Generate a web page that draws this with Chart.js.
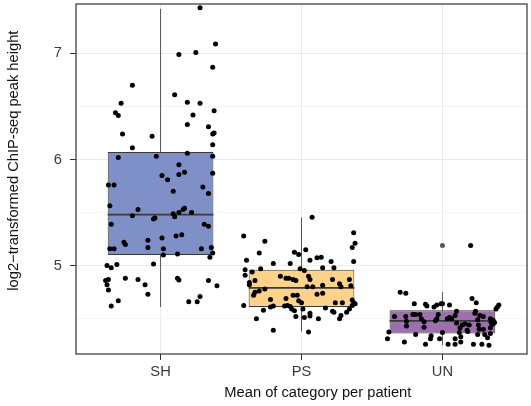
<!DOCTYPE html>
<html>
<head>
<meta charset="utf-8">
<script src="https://cdn.jsdelivr.net/npm/chart.js@4"></script>
<style>
  html, body { margin: 0; padding: 0; background: #fff; }
  #wrap { width: 531px; height: 406px; }
</style>
</head>
<body>
<div id="wrap"><canvas id="chart" width="531" height="406"></canvas></div>
<script>
// ---------------------------------------------
// DATA
// ---------------------------------------------
const categories = ['SH', 'PS', 'UN'];
const yTicks = [4.5, 5, 5.5, 6, 6.5, 7];

// box summary per category
const whiskerLow  = [4.61, 4.38, 4.25];
const q1          = [5.10, 4.61, 4.36];
const median      = [5.48, 4.79, 4.48];
const q3          = [6.07, 4.96, 4.58];
const whiskerHigh = [7.42, 5.455, 4.75];
const outliers    = [[], [], [5.19]];

// jittered points (offset from category centre, value)
const shJitter = [0.28,0.39,0.13,0.25,0.37,-0.20,0.10,-0.28,0.19,0.28,
  0.38,-0.32,-0.30,0.23,-0.27,-0.06,0.19,0.34,0.38,0.37,
  -0.20,0.37,0.19,-0.30,-0.03,0.37,0.13,0.01,0.05,0.17,
  0.13,0.37,-0.37,-0.33,0.09,0.30,0.34,-0.36,-0.16,0.16,
  0.17,0.09,0.10,0.13,0.22,-0.20,-0.05,-0.04,-0.35,0.31,
  0.34,0.11,0.15,0.01,-0.09,-0.26,-0.25,-0.09,-0.36,-0.33,
  0.02,0.29,0.36,0.37,0.35,0.02,0.12,-0.38,-0.35,-0.31,
  -0.05,-0.39,-0.37,-0.38,-0.37,-0.25,-0.16,-0.11,-0.09,0.12,
  0.13,0.34,0.40,-0.30,-0.35,0.20,0.26,0.28];
const shValues = [7.43,7.09,6.99,7.01,6.87,6.70,6.61,6.53,6.54,6.53,
  6.46,6.44,6.415,6.42,6.24,6.22,6.33,6.31,6.25,6.24,
  6.11,6.14,6.06,6.02,6.03,6.03,5.95,5.85,5.81,5.88,
  5.86,5.87,5.76,5.76,5.70,5.74,5.68,5.565,5.53,5.53,
  5.54,5.49,5.46,5.50,5.50,5.47,5.44,5.45,5.39,5.39,
  5.37,5.28,5.29,5.26,5.24,5.22,5.20,5.17,5.16,5.16,
  5.16,5.16,5.17,5.12,5.08,5.10,5.11,5.00,4.98,5.01,
  5.015,4.86,4.87,4.82,4.77,4.88,4.87,4.82,4.73,4.88,
  4.865,4.86,4.81,4.67,4.62,4.66,4.66,4.71];

const psJitter = [0.075,-0.41,-0.26,0.37,0.38,0.36,-0.30,-0.05,-0.02,0.03,
  0.11,0.14,-0.39,-0.20,-0.08,0.06,0.21,0.37,0.15,0.23,
  -0.40,-0.35,-0.29,-0.01,0.02,-0.40,-0.15,-0.11,-0.09,-0.06,
  -0.04,0.05,0.06,-0.37,-0.37,-0.33,0.22,0.27,0.28,0.34,
  0.35,0.15,0.04,0.08,-0.30,-0.26,-0.33,-0.34,-0.06,-0.03,
  0.11,0.15,-0.22,-0.11,-0.02,0.00,-0.41,-0.22,-0.20,-0.12,
  -0.10,-0.08,-0.07,-0.05,0.01,0.17,0.24,0.29,0.36,0.37,
  0.38,0.36,0.34,0.32,-0.27,0.22,0.23,0.06,0.06,-0.04,
  0.02,0.12,0.27,0.28,-0.32,-0.20,0.05];
const psValues = [5.455,5.28,5.23,5.31,5.21,5.17,5.12,5.125,5.105,5.15,
  5.075,5.08,5.05,5.02,5.02,5.05,5.04,5.04,4.98,4.98,
  4.96,4.94,4.97,4.97,4.955,4.91,4.90,4.88,4.88,4.87,
  4.86,4.90,4.87,4.84,4.82,4.86,4.87,4.83,4.80,4.87,
  4.81,4.815,4.80,4.80,4.76,4.78,4.75,4.72,4.72,4.72,
  4.73,4.74,4.68,4.69,4.67,4.65,4.625,4.61,4.62,4.62,
  4.625,4.615,4.59,4.575,4.59,4.60,4.65,4.65,4.675,4.65,
  4.64,4.625,4.59,4.56,4.58,4.57,4.56,4.55,4.525,4.52,
  4.51,4.50,4.50,4.53,4.50,4.39,4.375];

const unJitter = [0.20,-0.30,-0.26,-0.20,-0.12,-0.11,-0.06,-0.04,-0.01,0.00,
  0.05,-0.34,-0.26,-0.255,-0.255,-0.21,-0.19,-0.16,-0.15,-0.13,
  -0.13,-0.03,-0.04,-0.05,0.05,-0.38,-0.39,-0.19,-0.27,-0.08,
  -0.085,-0.12,-0.02,0.00,0.04,0.21,0.24,0.39,0.40,0.38,
  0.10,0.09,0.235,0.23,0.265,0.29,0.25,0.035,0.066,0.34,
  0.36,0.345,0.37,0.36,0.10,0.14,0.16,0.19,0.175,0.125,
  0.12,0.13,0.13,0.255,0.26,0.18,0.29,0.34,0.25,0.30,
  0.34,0.32,0.09,0.09,0.22,0.28,0.33];
const unValues = [5.19,4.75,4.74,4.64,4.635,4.62,4.61,4.63,4.64,4.64,
  4.63,4.52,4.52,4.475,4.43,4.54,4.54,4.54,4.50,4.47,
  4.42,4.54,4.50,4.48,4.51,4.375,4.31,4.35,4.28,4.34,
  4.31,4.26,4.31,4.37,4.26,4.69,4.65,4.61,4.63,4.59,
  4.57,4.53,4.57,4.55,4.53,4.52,4.49,4.50,4.50,4.50,
  4.485,4.465,4.465,4.45,4.46,4.44,4.45,4.44,4.39,4.415,
  4.37,4.33,4.28,4.44,4.40,4.38,4.40,4.415,4.35,4.35,
  4.36,4.32,4.31,4.26,4.26,4.26,4.25];

// ---------------------------------------------
// STYLE
// ---------------------------------------------
const boxColors = ['#7f8fc8', '#fdd28b', '#9d6fae'];
const boxWidth = 0.75;
const fontFamily = '"Liberation Sans", Arial, Helvetica, sans-serif';
// titles sit a little off the panel centre in the original; no-break spaces nudge them
const nudge = n => '\u00a0'.repeat(n);

// ---------------------------------------------
// DATASETS
// ---------------------------------------------
const jitters = [shJitter, psJitter, unJitter];
const values = [shValues, psValues, unValues];
const datasets = [];

// jittered points on top
jitters.forEach((jit, i) => {
    datasets.push({
        type: 'scatter',
        data: jit.map((j, k) => ({x: i + 1 + j, y: values[i][k]})),
        pointRadius: 2.5,
        pointBackgroundColor: '#000',
        pointBorderWidth: 0,
        order: 0
    });
});

// boxplot outliers
datasets.push({
    type: 'scatter',
    data: outliers.flatMap((arr, i) => arr.map(v => ({x: i + 1, y: v}))),
    pointRadius: 2.5,
    pointBackgroundColor: '#555',
    pointBorderWidth: 0,
    order: 1
});

// medians
categories.forEach((c, i) => {
    datasets.push({
        type: 'line',
        data: [{x: i + 1 - boxWidth / 2, y: median[i]}, {x: i + 1 + boxWidth / 2, y: median[i]}],
        borderColor: '#3a3a3a',
        borderWidth: 1.8,
        pointRadius: 0,
        order: 2
    });
});

// boxes (floating bars)
datasets.push({
    type: 'bar',
    data: categories.map((c, i) => ({x: i + 1, y: [q1[i], q3[i]]})),
    backgroundColor: boxColors,
    borderColor: '#3a3a3a',
    borderWidth: 1,
    borderSkipped: false,
    categoryPercentage: 1,
    barPercentage: boxWidth,
    grouped: false,
    order: 3
});

// whiskers (drawn under boxes)
categories.forEach((c, i) => {
    datasets.push({
        type: 'line',
        data: [{x: i + 1, y: whiskerLow[i]}, {x: i + 1, y: whiskerHigh[i]}],
        borderColor: '#555',
        borderWidth: 1,
        pointRadius: 0,
        order: 4
    });
});

// panel border on top of everything
const panelBorder = {
    id: 'panelBorder',
    afterDatasetsDraw(chart) {
        const {ctx, chartArea: a} = chart;
        ctx.save();
        ctx.strokeStyle = '#333';
        ctx.lineWidth = 1.2;
        ctx.strokeRect(a.left, a.top, a.right - a.left, a.bottom - a.top);
        ctx.restore();
    }
};

new Chart(document.getElementById('chart'), {
    type: 'scatter',
    data: {datasets},
    plugins: [panelBorder],
    options: {
        responsive: false,
        animation: false,
        devicePixelRatio: 1,
        layout: {padding: {top: 2, right: 1, left: 0, bottom: 0}},
        plugins: {legend: {display: false}, tooltip: {enabled: false}},
        scales: {
            x: {
                type: 'linear',
                min: 0.4,
                max: 3.6,
                offset: false,
                afterBuildTicks: scale => { scale.ticks = categories.map((c, i) => ({value: i + 1})); },
                afterFit: scale => {
                    scale.height = 52;
                    scale.paddingLeft = 0;
                    scale.paddingRight = 0;
                },
                border: {display: false},
                grid: {color: '#ebebeb', lineWidth: 1, tickLength: 6, tickColor: '#333', offset: false},
                ticks: {
                    callback: (v, i) => categories[i],
                    color: '#3a3a3a',
                    font: {family: fontFamily, size: 14.7},
                    padding: 3,
                    maxRotation: 0
                },
                title: {
                    display: true,
                    text: nudge(8) + 'Mean of category per patient',
                    color: '#111',
                    font: {family: fontFamily, size: 14.7},
                    padding: {top: 0, bottom: 4}
                }
            },
            y: {
                type: 'linear',
                min: 4.167,
                max: 7.466,
                afterBuildTicks: scale => { scale.ticks = yTicks.map(v => ({value: v})); },
                afterFit: scale => {
                    scale.width = 76;
                    scale.paddingTop = 0;
                    scale.paddingBottom = 0;
                },
                border: {display: false},
                grid: {
                    color: ctx => Number.isInteger(ctx.tick.value) ? '#ebebeb' : '#f3f3f3',
                    lineWidth: ctx => Number.isInteger(ctx.tick.value) ? 1 : 0.8,
                    tickLength: 6,
                    tickColor: ctx => Number.isInteger(ctx.tick.value) ? '#333' : 'rgba(0,0,0,0)'
                },
                ticks: {
                    callback: v => Number.isInteger(v) ? String(v) : '',
                    color: '#3a3a3a',
                    font: {family: fontFamily, size: 14.7},
                    padding: 8
                },
                title: {
                    display: true,
                    text: nudge(9) + 'log2\u2212transformed ChIP-seq peak height',
                    color: '#111',
                    font: {family: fontFamily, size: 14.7},
                    padding: {top: 5, bottom: 0}
                }
            }
        }
    }
});
</script>
</body>
</html>
